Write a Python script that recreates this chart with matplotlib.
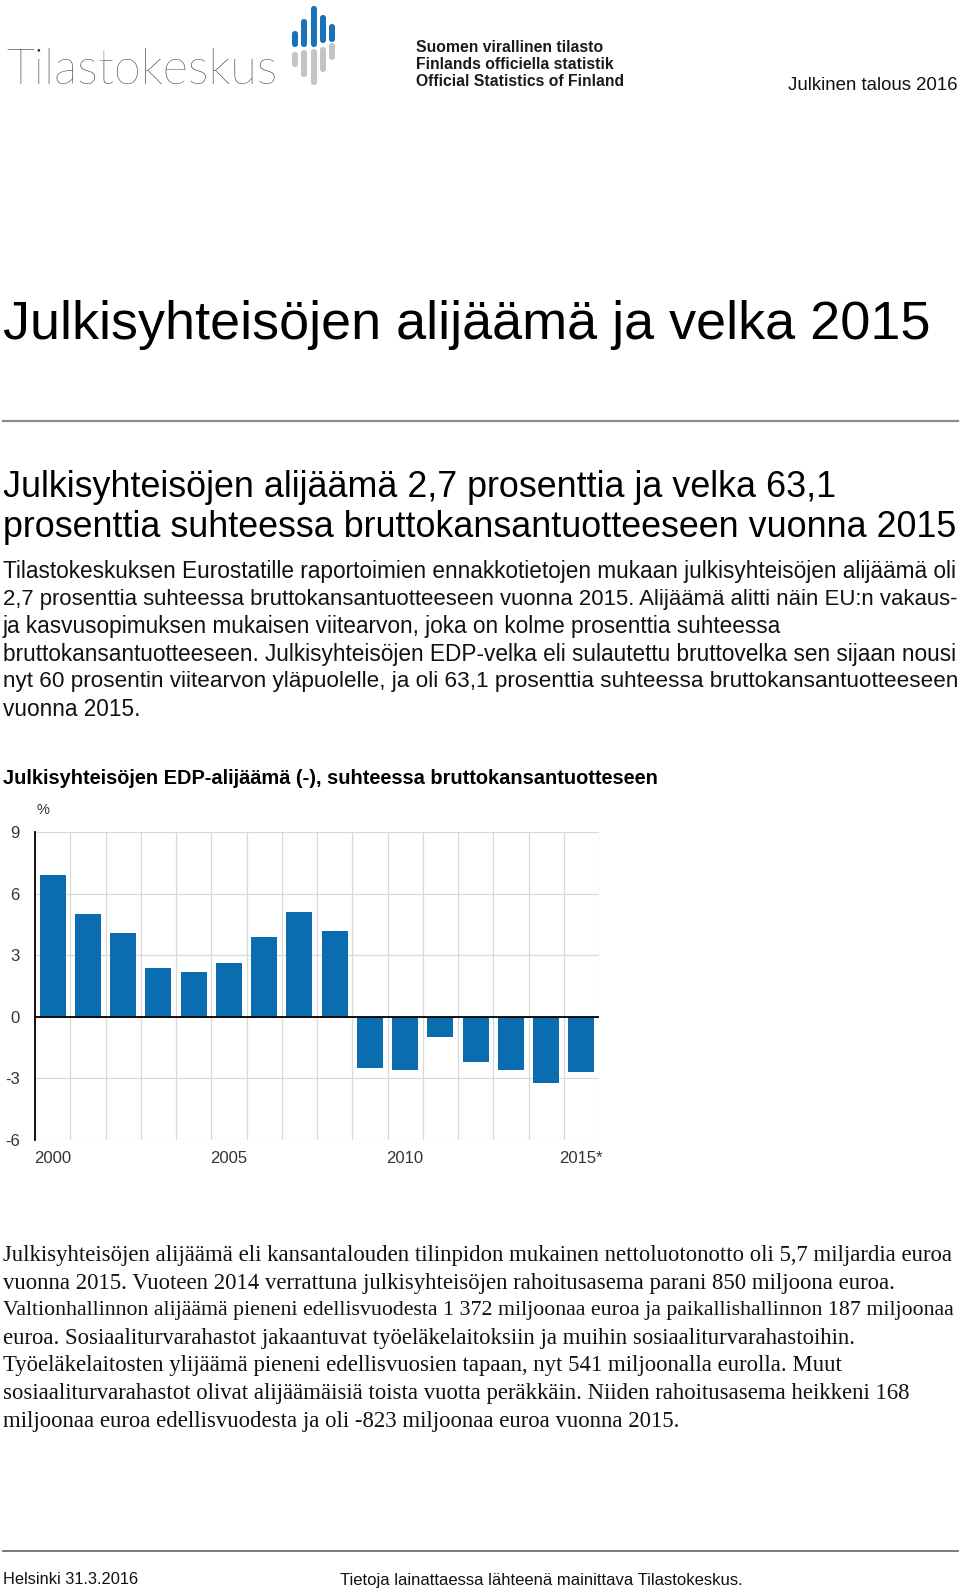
import matplotlib
matplotlib.use('Agg')
import matplotlib.pyplot as plt
from matplotlib.patches import FancyBboxPatch
import numpy as np

# ---------------- data ----------------
years = list(range(2000, 2016))
deficit = [6.9, 5.0, 4.1, 2.4, 2.2, 2.6, 3.9, 5.1, 4.2,
           -2.5, -2.6, -1.0, -2.2, -2.6, -3.2, -2.7]
xtick_years = [2000, 2005, 2010, 2015]
xtick_labels = ['2000', '2005', '2010', '2015*']
yticks = [-6, -3, 0, 3, 6, 9]
ytick_labels = ['-6', '-3', '0', '3', '6', '9']

header_right = 'Julkinen talous 2016'
logo_word = 'Tilastokeskus'
logo_lines = ['Suomen virallinen tilasto', 'Finlands officiella statistik',
              'Official Statistics of Finland']
title = 'Julkisyhteisöjen alijäämä ja velka 2015'
subtitle = ['Julkisyhteisöjen alijäämä 2,7 prosenttia ja velka 63,1',
            'prosenttia suhteessa bruttokansantuotteeseen vuonna 2015']
para1 = ['Tilastokeskuksen Eurostatille raportoimien ennakkotietojen mukaan julkisyhteisöjen alijäämä oli',
         '2,7 prosenttia suhteessa bruttokansantuotteeseen vuonna 2015. Alijäämä alitti näin EU:n vakaus-',
         'ja kasvusopimuksen mukaisen viitearvon, joka on kolme prosenttia suhteessa',
         'bruttokansantuotteeseen. Julkisyhteisöjen EDP-velka eli sulautettu bruttovelka sen sijaan nousi',
         'nyt 60 prosentin viitearvon yläpuolelle, ja oli 63,1 prosenttia suhteessa bruttokansantuotteeseen',
         'vuonna 2015.']
chart_title = 'Julkisyhteisöjen EDP-alijäämä (-), suhteessa bruttokansantuotteseen'
unit_label = '%'
para2 = ['Julkisyhteisöjen alijäämä eli kansantalouden tilinpidon mukainen nettoluotonotto oli 5,7 miljardia euroa',
         'vuonna 2015. Vuoteen 2014 verrattuna julkisyhteisöjen rahoitusasema parani 850 miljoona euroa.',
         'Valtionhallinnon alijäämä pieneni edellisvuodesta 1 372 miljoonaa euroa ja paikallishallinnon 187 miljoonaa',
         'euroa. Sosiaaliturvarahastot jakaantuvat työeläkelaitoksiin ja muihin sosiaaliturvarahastoihin.',
         'Työeläkelaitosten ylijäämä pieneni edellisvuosien tapaan, nyt 541 miljoonalla eurolla. Muut',
         'sosiaaliturvarahastot olivat alijäämäisiä toista vuotta peräkkäin. Niiden rahoitusasema heikkeni 168',
         'miljoonaa euroa edellisvuodesta ja oli -823 miljoonaa euroa vuonna 2015.']
footer_left = 'Helsinki 31.3.2016'
footer_mid = 'Tietoja lainattaessa lähteenä mainittava Tilastokeskus.'

# ---------------- styles ----------------
BLUE = '#0a6db0'
GRID = '#d9d9d9'
SANS = ['Liberation Sans', 'DejaVu Sans']
NARROW = ['Liberation Sans Narrow', 'Liberation Sans', 'DejaVu Sans']
SERIF = ['Liberation Serif', 'DejaVu Serif']

W, H = 960, 1592
fig = plt.figure(figsize=(W / 100, H / 100), dpi=100)
fig.patch.set_facecolor('white')


def fx(x):
    return x / W


def fy(y):
    return 1 - y / H


renderer = fig.canvas.get_renderer()


def txt(x, y, s, size, family=SANS, ha='left', va='center', **kw):
    return fig.text(fx(x), fy(y), s, fontsize=size, family=family,
                    ha=ha, va=va, **kw)


def fit(t, target_w):
    w = t.get_window_extent(renderer).width
    t.set_fontsize(t.get_fontsize() * target_w / w)
    return t.get_fontsize()


# ---------------- header ----------------
t = txt(6, 71, logo_word, 30, family=['Lato', 'DejaVu Sans'],
        fontweight='light', color='#2e2e2e')
fit(t, 271)

# logo icon bars: (x_left, blue_top, blue_bottom, gray_top, gray_bottom)
icon = [(292, 31, 47, 52, 67), (301, 19, 47, 50, 77), (311, 6, 47, 49, 85),
        (320, 15, 43, 47, 72), (329, 24, 42, 43, 60)]
for xl, bt, bb, gt, gb in icon:
    for (top, bot, col) in [(bt, bb, '#1a73b8'), (gt, gb, '#c4c4c4')]:
        p = FancyBboxPatch((fx(xl), fy(bot)), 6 / W, (bot - top) / H,
                           boxstyle='round,pad=0,rounding_size=0.003',
                           transform=fig.transFigure, facecolor=col,
                           edgecolor='none', mutation_aspect=W / H)
        fig.add_artist(p)

logo_texts = []
for s, yy in zip(logo_lines, [47, 64.5, 82]):
    logo_texts.append(txt(416, yy, s, 11, family=NARROW,
                          fontweight='bold', color='#1a1a1a'))
ls = fit(logo_texts[2], 209)
for tt in logo_texts:
    tt.set_fontsize(ls)

t = txt(958, 85, header_right, 12, ha='right', color='#111111')
fit(t, 171)

# ---------------- titles ----------------
t = txt(3, 325, title, 38, color='black')
fit(t, 927)

fig.add_artist(plt.Line2D([fx(3), fx(958)], [fy(421), fy(421)],
                          transform=fig.transFigure, color='#8c8c8c', lw=1.6))

sub_texts = [txt(3, 487.5, subtitle[0], 26, color='black'),
             txt(3, 527.5, subtitle[1], 26, color='black')]
s = fit(sub_texts[1], 954)
sub_texts[0].set_fontsize(s)

ys1 = [571.5, 599, 626.5, 654, 681.5, 709]
p1 = [txt(3, y, l, 15, color='#111111') for l, y in zip(para1, ys1)]
s = fit(p1[0], 955)
for t in p1:
    t.set_fontsize(s)
for i in (1, 3, 4):
    fit(p1[i], 955)

t = txt(3, 778, chart_title, 14, fontweight='bold', color='black')
fit(t, 659)

# ---------------- chart ----------------
ax = fig.add_axes([fx(35), fy(1140), (599 - 35) / W, (1140 - 832) / H])
xi = np.arange(len(years))
ax.bar(xi, deficit, width=0.74, color=BLUE, zorder=3)
ax.set_xlim(-0.5, len(years) - 0.5)
ax.set_ylim(-6, 9)
ax.set_yticks(yticks)
ax.set_yticklabels(ytick_labels)
ax.set_xticks([years.index(y) for y in xtick_years])
ax.set_xticklabels(xtick_labels)
ax.set_xticks(np.arange(-0.5, len(years)), minor=True)
ax.grid(axis='x', which='minor', color=GRID, lw=0.9, zorder=0)
ax.grid(axis='y', which='major', color=GRID, lw=0.9, zorder=0)
ax.axhline(0, color='black', lw=1.3, zorder=4)
for side in ['top', 'right', 'bottom']:
    ax.spines[side].set_visible(False)
ax.spines['left'].set_color('black')
ax.spines['left'].set_linewidth(1.3)
ax.spines['left'].set_zorder(5)
ax.tick_params(axis='both', which='both', length=0)
ax.tick_params(axis='y', pad=11)
ax.tick_params(axis='x', pad=8)
for lab in ax.get_xticklabels() + ax.get_yticklabels():
    lab.set_family(NARROW)
    lab.set_fontsize(12)
    lab.set_color('#333333')
ax.set_facecolor('white')

txt(43, 810, unit_label, 10.5, family=NARROW, ha='center', color='#333333')

# ---------------- lower paragraph ----------------
ys2 = [1256, 1283.5, 1311, 1338.5, 1366, 1393.5, 1421]
p2 = [txt(3, y, l, 15, family=SERIF, color='#111111') for l, y in zip(para2, ys2)]
s = fit(p2[0], 952)
for t in p2:
    t.set_fontsize(s)
fit(p2[2], 955)

# ---------------- footer ----------------
fig.add_artist(plt.Line2D([fx(3), fx(958)], [fy(1551), fy(1551)],
                          transform=fig.transFigure, color='#6e6e6e', lw=1.3))
t = txt(3, 1580, footer_left, 12, color='#111111')
s = fit(t, 135)
t = txt(340, 1580, footer_mid, s, color='#111111')
fit(t, 401)

fig.savefig('out.png', dpi=100, facecolor='white')
